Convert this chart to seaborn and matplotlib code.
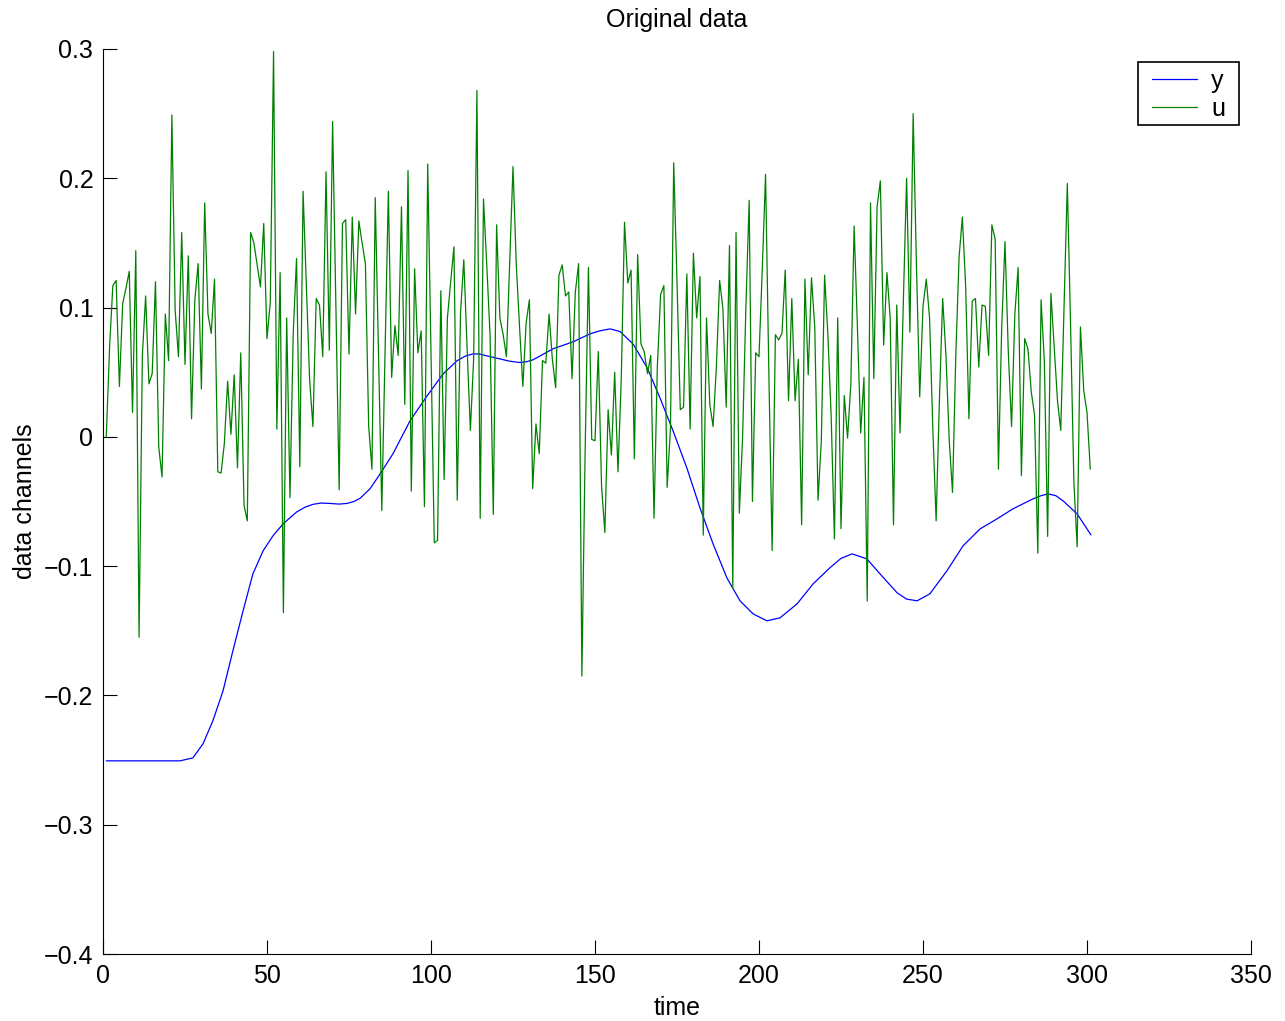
import numpy as np
import pandas as pd
import matplotlib
matplotlib.use("Agg")
import matplotlib.pyplot as plt
import seaborn as sns
from matplotlib.ticker import FuncFormatter
from matplotlib.patches import Rectangle

# ---- data ----
u_values = [
    0.000, 0.069, 0.117, 0.121, 0.039, 0.103, 0.115, 0.128, 0.019, 0.144,
    -0.155, 0.063, 0.109, 0.041, 0.049, 0.120, -0.008, -0.031, 0.095, 0.059,
    0.249, 0.098, 0.062, 0.158, 0.056, 0.140, 0.014, 0.106, 0.134, 0.037,
    0.181, 0.095, 0.080, 0.122, -0.027, -0.028, -0.005, 0.043, 0.002, 0.048,
    -0.024, 0.065, -0.053, -0.065, 0.158, 0.150, 0.133, 0.116, 0.165, 0.076,
    0.104, 0.298, 0.006, 0.127, -0.136, 0.092, -0.047, 0.080, 0.138, -0.023,
    0.190, 0.117, 0.044, 0.008, 0.107, 0.102, 0.062, 0.205, 0.067, 0.244,
    0.101, -0.041, 0.165, 0.168, 0.064, 0.170, 0.095, 0.167, 0.150, 0.134,
    0.008, -0.025, 0.185, 0.063, -0.057, 0.066, 0.190, 0.046, 0.086, 0.063,
    0.178, 0.025, 0.206, -0.042, 0.130, 0.065, 0.082, -0.054, 0.211, 0.063,
    -0.082, -0.080, 0.113, -0.033, 0.092, 0.120, 0.147, -0.049, 0.096, 0.137,
    0.069, 0.005, 0.060, 0.268, -0.063, 0.184, 0.133, 0.079, -0.060, 0.164,
    0.092, 0.079, 0.062, 0.136, 0.209, 0.133, 0.085, 0.039, 0.088, 0.106,
    -0.040, 0.010, -0.013, 0.059, 0.057, 0.095, 0.060, 0.038, 0.125, 0.133,
    0.109, 0.112, 0.045, 0.112, 0.134, -0.185, -0.010, 0.131, -0.002, -0.003,
    0.066, -0.038, -0.074, 0.021, -0.014, 0.050, -0.027, 0.044, 0.166, 0.119,
    0.129, -0.017, 0.141, 0.072, 0.066, 0.049, 0.063, -0.063, 0.054, 0.110,
    0.117, -0.039, 0.006, 0.212, 0.120, 0.021, 0.023, 0.126, 0.006, 0.142,
    0.092, 0.124, -0.076, 0.092, 0.025, 0.008, 0.054, 0.121, 0.099, 0.023,
    0.148, -0.117, 0.158, -0.059, 0.000, 0.100, 0.183, -0.050, 0.065, 0.062,
    0.130, 0.203, 0.050, -0.088, 0.079, 0.075, 0.080, 0.129, 0.028, 0.107,
    0.028, 0.060, -0.068, 0.122, 0.048, 0.123, 0.085, -0.049, -0.003, 0.125,
    0.079, 0.016, -0.079, 0.092, -0.071, 0.032, -0.001, 0.041, 0.163, 0.085,
    0.003, 0.046, -0.127, 0.181, 0.045, 0.178, 0.198, 0.071, 0.127, 0.092,
    -0.068, 0.102, 0.003, 0.104, 0.200, 0.081, 0.250, 0.133, 0.031, 0.101,
    0.122, 0.092, 0.006, -0.065, 0.028, 0.107, 0.063, -0.003, -0.043, 0.063,
    0.139, 0.170, 0.117, 0.014, 0.105, 0.107, 0.054, 0.102, 0.101, 0.063,
    0.164, 0.153, -0.025, 0.085, 0.151, 0.066, 0.008, 0.095, 0.131, -0.030,
    0.076, 0.068, 0.035, 0.017, -0.090, 0.106, 0.058, -0.077, 0.111, 0.069,
    0.028, 0.005, 0.101, 0.196, 0.085, -0.035, -0.085, 0.085, 0.036, 0.019,
    -0.025,
]
u_time = list(range(1, len(u_values) + 1))

y_time = [
    1, 23.5, 27.4, 30.5, 33.5, 36.6, 39.6, 42.7, 45.7, 48.8, 51.8, 54.9,
    59.1, 61.5, 64.0, 66.5, 69.2, 72.0, 74.4, 76.5, 78.4, 81.4, 84.5, 88.4,
    93.6, 98.8, 103.7, 107.9, 110.5, 112.8, 115.0, 117.1, 121.0, 124.0,
    127.1, 129.0, 131.1, 137.2, 143.3, 148.5, 151.5, 154.6, 157.6, 161.6,
    165.9, 169.8, 173.8, 178.0, 182.0, 186.0, 190.2, 194.2, 198.2, 202.4,
    206.4, 211.6, 216.5, 221.6, 225.0, 228.4, 232.9, 236.9, 242.1, 245.0,
    248.2, 252.1, 257.3, 262.2, 267.4, 272.6, 277.4, 283.5, 286.0, 288.1,
    290.5, 292.7, 297.0, 301.2,
]
y_values = [
    -0.2506, -0.2506, -0.2483, -0.2374, -0.2196, -0.1964, -0.1655, -0.1346,
    -0.1060, -0.0882, -0.0766, -0.0673, -0.0580, -0.0545, -0.0522, -0.0512,
    -0.0515, -0.0520, -0.0515, -0.0500, -0.0475, -0.0402, -0.0286, -0.0131,
    0.0124, 0.0317, 0.0487, 0.0588, 0.0625, 0.0642, 0.0640, 0.0626, 0.0603,
    0.0585, 0.0575, 0.0580, 0.0596, 0.0681, 0.0735, 0.0797, 0.0820, 0.0835,
    0.0815, 0.0719, 0.0534, 0.0302, 0.0046, -0.0240, -0.0549, -0.0828,
    -0.1090, -0.1268, -0.1369, -0.1423, -0.1400, -0.1292, -0.1137, -0.1013,
    -0.0940, -0.0905, -0.0944, -0.1060, -0.1206, -0.1255, -0.1268, -0.1214,
    -0.1036, -0.0843, -0.0712, -0.0634, -0.0557, -0.0480, -0.0455, -0.0441,
    -0.0455, -0.0495, -0.0596, -0.0758,
]

x_ticks = [0, 50, 100, 150, 200, 250, 300, 350]
y_ticks = [-0.4, -0.3, -0.2, -0.1, 0, 0.1, 0.2, 0.3]

title_text = "Original data"
x_label = "time"
y_label = "data channels"

# ---- style ----
sns.set_style("ticks")
plt.rcParams["font.family"] = ["Liberation Sans", "DejaVu Sans"]
plt.rcParams["axes.unicode_minus"] = True
plt.rcParams["text.color"] = "black"
plt.rcParams["axes.labelcolor"] = "black"

FS = 18
W, H = 1285, 1021

fig = plt.figure(figsize=(W / 100, H / 100), dpi=100)
ax = fig.add_axes([103 / W, 1 - 954 / H, (1251 - 103) / W, (954 - 49) / H])

sns.lineplot(x=y_time, y=y_values, ax=ax, color="#0000ff", linewidth=0.9,
             label="y", sort=False, estimator=None)
sns.lineplot(x=u_time, y=u_values, ax=ax, color="#008000", linewidth=0.9,
             label="u", sort=False, estimator=None)

ax.set_xlim(0, 350)
ax.set_ylim(-0.4, 0.3)
ax.set_xticks(x_ticks)
ax.set_yticks(y_ticks)


def fmt(v, pos):
    s = f"{v:g}"
    return s.replace("-", "\u2212")


ax.yaxis.set_major_formatter(FuncFormatter(fmt))
ax.xaxis.set_major_formatter(FuncFormatter(fmt))
ax.tick_params(direction="in", length=10, width=0.8, labelsize=FS, colors="black",
               pad=7)
for side in ["top", "right"]:
    ax.spines[side].set_visible(False)
for side in ["left", "bottom"]:
    ax.spines[side].set_linewidth(0.8)
    ax.spines[side].set_color("black")

ax.set_title(title_text, fontsize=FS, pad=16, color="black")
ax.set_xlabel(x_label, fontsize=FS, labelpad=6)
ax.set_ylabel(y_label, fontsize=FS, labelpad=5)

# legend frame (drawn as a patch to match the box proportions), then content
frame = Rectangle((1138 / W, 1 - 125 / H), (1239 - 1138) / W, (125 - 62) / H,
                  transform=fig.transFigure, fill=True, facecolor="white",
                  edgecolor="black", linewidth=1.2, zorder=4, clip_on=False)
ax.add_artist(frame)
leg = ax.legend(loc="upper right",
                bbox_to_anchor=(1225 / W, 1 - 69 / H),
                bbox_transform=fig.transFigure,
                fontsize=FS, frameon=False,
                handlelength=1.8, handletextpad=0.55, borderpad=0.0,
                labelspacing=0.15, borderaxespad=0.0)
leg.set_zorder(6)

fig.savefig("out.png", dpi=100)
